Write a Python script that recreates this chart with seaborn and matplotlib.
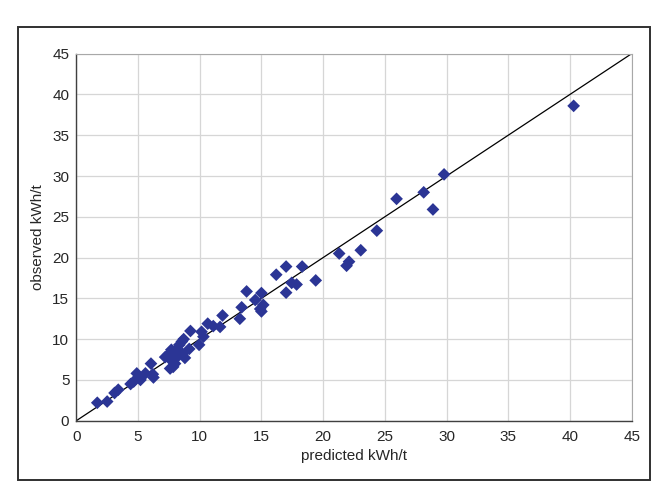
import pandas as pd
import numpy as np
import seaborn as sns
import matplotlib.pyplot as plt
from matplotlib.patches import Rectangle

# predicted vs observed, kWh/t
predicted = [1.7, 2.5, 3.1, 3.4, 4.4, 4.65, 4.9, 5.2, 5.6, 6.05, 6.2, 6.25,
             7.2, 7.45, 7.7, 7.75, 7.6, 7.85, 8.0, 7.9, 8.1, 8.3, 8.35, 8.55,
             8.6, 8.7, 8.8, 9.15, 9.25, 9.95, 10.15, 10.3, 10.65, 11.1, 11.65,
             11.85, 13.25, 13.4, 13.8, 14.5, 14.9, 15.0, 15.15, 15.0, 16.2,
             17.0, 17.0, 17.45, 17.85, 18.3, 19.4, 21.3, 21.9, 22.1, 23.05,
             24.35, 25.95, 28.15, 28.9, 29.8, 40.3]
observed = [2.2, 2.35, 3.4, 3.8, 4.5, 4.8, 5.8, 5.0, 5.8, 7.0, 5.7, 5.3,
            7.8, 8.1, 8.7, 7.3, 6.4, 6.6, 7.0, 7.6, 8.7, 8.0, 9.3, 9.7,
            8.2, 10.0, 7.7, 8.8, 11.0, 9.3, 10.9, 10.3, 11.9, 11.6, 11.5,
            12.9, 12.5, 13.9, 15.85, 14.8, 13.7, 13.4, 14.2, 15.65, 17.9,
            18.9, 15.7, 16.9, 16.7, 18.9, 17.2, 20.5, 19.0, 19.5, 20.9,
            23.3, 27.2, 28.0, 25.9, 30.2, 38.6]

df = pd.DataFrame({'predicted': predicted, 'observed': observed})

sns.set_style('white')
plt.rcParams['font.family'] = ['Liberation Sans', 'DejaVu Sans']

fig = plt.figure(figsize=(6.67, 4.96), dpi=100)
ax = fig.add_axes([0.1144, 0.1518, 0.8326, 0.740])

# 1:1 line
ax.plot([0, 45], [0, 45], color='black', lw=0.9, zorder=2)
sns.scatterplot(data=df, x='predicted', y='observed', marker='D', s=42,
                color='#2B3595', edgecolor='none', ax=ax, zorder=3)

ax.set_xlim(0, 45)
ax.set_ylim(0, 45)
ax.set_xticks(np.arange(0, 46, 5))
ax.set_yticks(np.arange(0, 46, 5))
ax.grid(True, color='#d6d6d6', lw=0.9)
ax.set_axisbelow(True)
for side in ['top', 'right']:
    ax.spines[side].set_color('#a8a8a8')
    ax.spines[side].set_linewidth(0.8)
for side in ['left', 'bottom']:
    ax.spines[side].set_color('#404040')
    ax.spines[side].set_linewidth(1.0)
ax.tick_params(axis='x', which='major', direction='out', length=3,
               width=0.8, color='#404040', labelsize=11, pad=4)
ax.tick_params(axis='y', which='major', direction='out', length=3,
               width=0.8, color='#404040', labelsize=11, pad=2)
ax.set_xlabel('predicted kWh/t', fontsize=11, labelpad=3)
ax.set_ylabel('observed kWh/t', fontsize=11, labelpad=5)

# outer frame around the chart
fig.patches.append(Rectangle((18 / 667, 1 - 480 / 496), (650 - 18) / 667,
                             (480 - 27) / 496, transform=fig.transFigure,
                             fill=False, edgecolor='#303030', lw=1.4))

fig.savefig('out.png', dpi=100)
